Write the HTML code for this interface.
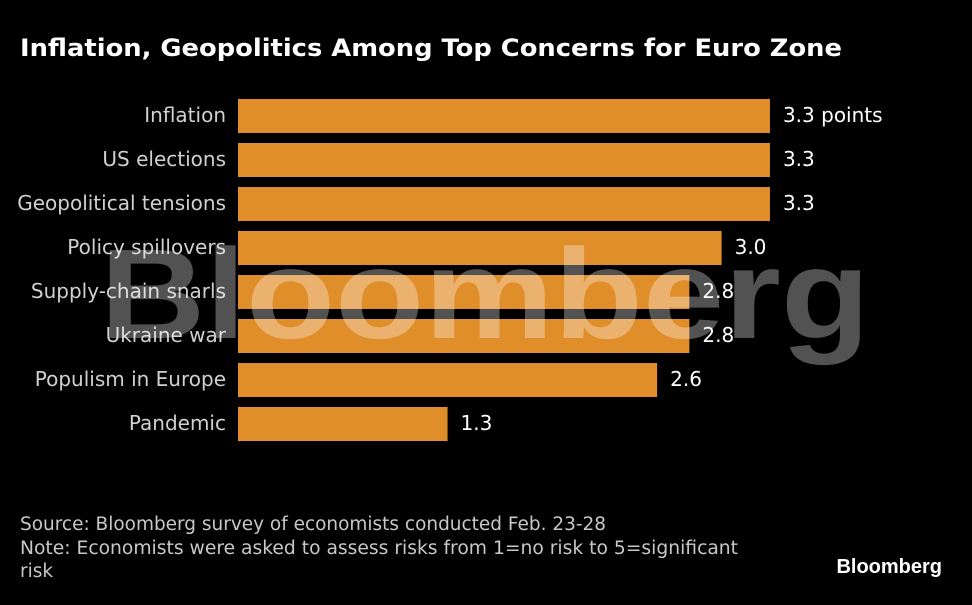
<!DOCTYPE html>
<html><head><meta charset="utf-8"><style>
body{margin:0;background:#000;width:972px;height:600px;overflow:hidden;font-family:"Liberation Sans","DejaVu Sans",sans-serif;}
</style></head><body>
<svg width="972" height="600" xmlns="http://www.w3.org/2000/svg">
<rect width="972" height="600" fill="#000"/>
<text x="20" y="56" fill="#fff" font-size="24" font-weight="bold" textLength="822" lengthAdjust="spacingAndGlyphs" font-family="DejaVu Sans, Liberation Sans, sans-serif">Inflation, Geopolitics Among Top Concerns for Euro Zone</text>
<g id="bars"></g>
<text x="100" y="338" fill="#ffffff" fill-opacity="0.32" font-size="128" font-weight="bold" textLength="770" lengthAdjust="spacingAndGlyphs">Bloomberg</text>
<g fill="#c8c8c8" font-size="18.5" font-family="DejaVu Sans, Liberation Sans, sans-serif">
<text x="20" y="530" textLength="586" lengthAdjust="spacingAndGlyphs">Source: Bloomberg survey of economists conducted Feb. 23-28</text>
<text x="20" y="554" textLength="718" lengthAdjust="spacingAndGlyphs">Note: Economists were asked to assess risks from 1=no risk to 5=significant</text>
<text x="20" y="577">risk</text>
</g>
<text x="942" y="573" text-anchor="end" fill="#fff" font-size="20" font-weight="bold">Bloomberg</text>
</svg>
<script>
const categories=["Inflation","US elections","Geopolitical tensions","Policy spillovers","Supply-chain snarls","Ukraine war","Populism in Europe","Pandemic"];
const values=[3.3,3.3,3.3,3.0,2.8,2.8,2.6,1.3];
const valueLabels=["3.3 points","3.3","3.3","3.0","2.8","2.8","2.6","1.3"];
const NS="http://www.w3.org/2000/svg";
const x0=238, pxPerUnit=161.2, y0=99, step=44, bh=34;
const xs=v=>x0+v*pxPerUnit;
const ys=i=>y0+i*step;
const g=document.getElementById('bars');
categories.forEach((c,i)=>{
  const r=document.createElementNS(NS,'rect');
  r.setAttribute('x',x0);r.setAttribute('y',ys(i));
  r.setAttribute('width',xs(values[i])-x0);r.setAttribute('height',bh);
  r.setAttribute('fill','#e08e2a');
  
  
  g.appendChild(r);
  const t=document.createElementNS(NS,'text');
  t.setAttribute('x',226);t.setAttribute('y',ys(i)+bh/2+6);
  t.setAttribute('text-anchor','end');t.setAttribute('fill','#d0d0d0');
  t.setAttribute('font-size','20');t.setAttribute('font-family','DejaVu Sans, Liberation Sans, sans-serif');
  t.textContent=c;
  
  
  g.appendChild(t);
  const v=document.createElementNS(NS,'text');
  v.setAttribute('x',xs(values[i])+13);v.setAttribute('y',ys(i)+bh/2+6);
  v.setAttribute('fill','#fff');v.setAttribute('font-size','20');
  v.setAttribute('font-family','DejaVu Sans, Liberation Sans, sans-serif');
  v.textContent=valueLabels[i];
  
  
  g.appendChild(v);
});
</script>
</body></html>
